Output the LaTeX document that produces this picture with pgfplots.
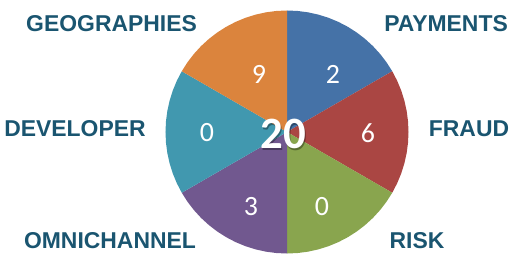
\documentclass[border=0pt]{standalone}
\usepackage{pgfplots}
\pgfplotsset{compat=1.18}
\usepackage{fontspec}
\setmainfont{Liberation Sans}
\newfontfamily\calib{Carlito}
\definecolor{cBlue}{HTML}{4572A7}
\definecolor{cRed}{HTML}{AA4643}
\definecolor{cGreen}{HTML}{89A54E}
\definecolor{cPurple}{HTML}{71588F}
\definecolor{cTeal}{HTML}{4198AF}
\definecolor{cOrange}{HTML}{DB843D}
\definecolor{lab}{HTML}{1A5570}
\begin{document}
\begin{tikzpicture}
\begin{axis}[
  hide axis, scale only axis, clip=false,
  width=518bp, height=255bp,
  xmin=-2.3621, xmax=1.9012, ymin=-1.0123, ymax=1.0864,
]
\path (rel axis cs:0,0) rectangle (rel axis cs:1,1);
% slices (angle, radius) in polar data
\addplot[fill=cBlue, draw=none, data cs=polar] coordinates {(0,0) (90,1) (85,1) (80,1) (75,1) (70,1) (65,1) (60,1) (55,1) (50,1) (45,1) (40,1) (35,1) (30,1)} -- cycle;
\addplot[fill=cRed, draw=none, data cs=polar] coordinates {(0,0) (30,1) (25,1) (20,1) (15,1) (10,1) (5,1) (0,1) (-5,1) (-10,1) (-15,1) (-20,1) (-25,1) (-30,1)} -- cycle;
\addplot[fill=cGreen, draw=none, data cs=polar] coordinates {(0,0) (-30,1) (-35,1) (-40,1) (-45,1) (-50,1) (-55,1) (-60,1) (-65,1) (-70,1) (-75,1) (-80,1) (-85,1) (-90,1)} -- cycle;
\addplot[fill=cPurple, draw=none, data cs=polar] coordinates {(0,0) (270,1) (265,1) (260,1) (255,1) (250,1) (245,1) (240,1) (235,1) (230,1) (225,1) (220,1) (215,1) (210,1)} -- cycle;
\addplot[fill=cTeal, draw=none, data cs=polar] coordinates {(0,0) (210,1) (205,1) (200,1) (195,1) (190,1) (185,1) (180,1) (175,1) (170,1) (165,1) (160,1) (155,1) (150,1)} -- cycle;
\addplot[fill=cOrange, draw=none, data cs=polar] coordinates {(0,0) (150,1) (145,1) (140,1) (135,1) (130,1) (125,1) (120,1) (115,1) (110,1) (105,1) (100,1) (95,1) (90,1)} -- cycle;
% category labels
\begin{scope}[every node/.style={inner sep=0pt, text=lab, font=\fontsize{23}{27}\selectfont\bfseries}]
\node at (axis cs:-1.444,0.889) {GEOGRAPHIES};
\node at (axis cs:1.309,0.889) {PAYMENTS};
\node at (axis cs:-1.745,0.025) {DEVELOPER};
\node at (axis cs:1.498,0.025) {FRAUD};
\node at (axis cs:-1.457,-0.897) {OMNICHANNEL};
\node at (axis cs:1.070,-0.897) {RISK};
\end{scope}
% values
\begin{scope}[every node/.style={inner sep=0pt, text=white, font=\calib\fontsize{28}{32}\selectfont}]
\node at (axis cs:-0.230,0.477) {9};
\node at (axis cs:0.379,0.477) {2};
\node at (axis cs:0.667,-0.008) {6};
\node at (axis cs:0.288,-0.617) {0};
\node at (axis cs:-0.296,-0.617) {3};
\node at (axis cs:-0.658,-0.008) {0};
\end{scope}
\node[inner sep=0pt, text=black, opacity=0.35, font=\calib\fontsize{45}{49}\selectfont\bfseries] at ([xshift=1bp,yshift=-1.2bp]axis cs:-0.033,-0.02) {20};
\node[inner sep=0pt, text=white, font=\calib\fontsize{45}{49}\selectfont\bfseries] at (axis cs:-0.033,-0.02) {20};
\end{axis}
\end{tikzpicture}
\end{document}
